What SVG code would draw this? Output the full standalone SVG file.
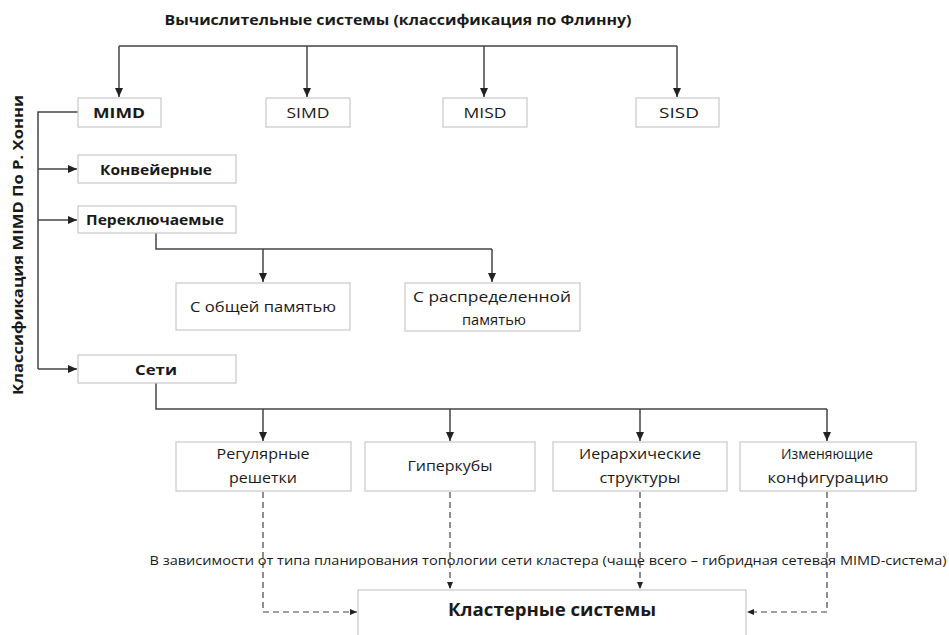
<svg xmlns="http://www.w3.org/2000/svg" width="949" height="635" viewBox="0 0 949 635">
<style>
  text { font-family: "Open Sans", "Liberation Sans", sans-serif; fill: #1a1a1a; text-anchor: middle; }
  .b { font-weight: bold; }
  .t { font-size: 15px; }
  .box { fill: #ffffff; stroke: #c8c8c8; stroke-width: 1.2; }
  .ln { fill: none; stroke: #444444; stroke-width: 1.5; }
  .dash { fill: none; stroke: #444444; stroke-width: 1.2; stroke-dasharray: 6 4; }
</style>
<defs>
  <marker id="ah" markerWidth="10" markerHeight="10" refX="9" refY="5" orient="auto" markerUnits="userSpaceOnUse">
    <path d="M0,1 L9,5 L0,9 Z" fill="#222222"/>
  </marker>
  <marker id="ahs" markerWidth="8" markerHeight="8" refX="7" refY="4" orient="auto" markerUnits="userSpaceOnUse">
    <path d="M0,1 L7,4 L0,7 Z" fill="#222222"/>
  </marker>
</defs>
<rect width="949" height="635" fill="#ffffff"/>

<g id="title">
  <text class="b" x="398" y="25" font-size="15" textLength="467" lengthAdjust="spacingAndGlyphs">Вычислительные системы (классификация по Флинну)</text>
</g>
<g id="side-label">
  <text class="b" transform="translate(23,245) rotate(-90)" font-size="14" textLength="300" lengthAdjust="spacingAndGlyphs">Классификация MIMD По Р. Хонни</text>
</g>

<g id="connectors">
  <path class="ln" d="M119,46 H677"/>
  <path class="ln" d="M119,46 V97" marker-end="url(#ah)"/>
  <path class="ln" d="M307,46 V97" marker-end="url(#ah)"/>
  <path class="ln" d="M484,46 V97" marker-end="url(#ah)"/>
  <path class="ln" d="M677,46 V97" marker-end="url(#ah)"/>
  <path class="ln" d="M78,112 H38 V369"/>
  <path class="ln" d="M38,169 H77" marker-end="url(#ah)"/>
  <path class="ln" d="M38,220 H77" marker-end="url(#ah)"/>
  <path class="ln" d="M38,369 H77" marker-end="url(#ah)"/>
  <path class="ln" d="M156,233 V249 H492"/>
  <path class="ln" d="M263,249 V282" marker-end="url(#ah)"/>
  <path class="ln" d="M492,249 V282" marker-end="url(#ah)"/>
  <path class="ln" d="M156,383 V409 H827"/>
  <path class="ln" d="M263,409 V441" marker-end="url(#ah)"/>
  <path class="ln" d="M450,409 V441" marker-end="url(#ah)"/>
  <path class="ln" d="M640,409 V441" marker-end="url(#ah)"/>
  <path class="ln" d="M827,409 V441" marker-end="url(#ah)"/>
  <path class="dash" d="M263,492 V612 H357" marker-end="url(#ahs)"/>
  <path class="dash" d="M450,492 V589" marker-end="url(#ahs)"/>
  <path class="dash" d="M640,492 V589" marker-end="url(#ahs)"/>
  <path class="dash" d="M827,492 V612 H747" marker-end="url(#ahs)"/>
</g>

<g id="mimd"><rect class="box" x="78" y="98" width="83" height="29"/><text class="b t" x="119" y="118" textLength="52" lengthAdjust="spacingAndGlyphs">MIMD</text></g>
<g id="simd"><rect class="box" x="266" y="98" width="84" height="29"/><text class="t" x="308" y="118" textLength="43" lengthAdjust="spacingAndGlyphs">SIMD</text></g>
<g id="misd"><rect class="box" x="443" y="98" width="84" height="29"/><text class="t" x="485" y="118" textLength="43" lengthAdjust="spacingAndGlyphs">MISD</text></g>
<g id="sisd"><rect class="box" x="636" y="98" width="83" height="29"/><text class="t" x="679" y="118" textLength="40" lengthAdjust="spacingAndGlyphs">SISD</text></g>

<g id="konv"><rect class="box" x="78" y="155" width="158" height="28"/><text class="b t" x="156" y="175" textLength="112" lengthAdjust="spacingAndGlyphs">Конвейерные</text></g>
<g id="perekl"><rect class="box" x="78" y="206" width="158" height="27"/><text class="b t" x="155" y="225" textLength="138" lengthAdjust="spacingAndGlyphs">Переключаемые</text></g>

<g id="obsh"><rect class="box" x="176" y="283" width="174" height="47"/><text class="t" x="263" y="312" textLength="146" lengthAdjust="spacingAndGlyphs">С общей памятью</text></g>
<g id="raspr"><rect class="box" x="405" y="283" width="175" height="48"/><text class="t" x="492" y="302" textLength="158" lengthAdjust="spacingAndGlyphs">С распределенной</text><text class="t" x="494" y="325" textLength="64" lengthAdjust="spacingAndGlyphs">памятью</text></g>

<g id="seti"><rect class="box" x="78" y="355" width="158" height="28"/><text class="b t" x="156" y="375" textLength="42" lengthAdjust="spacingAndGlyphs">Сети</text></g>

<g id="reg"><rect class="box" x="176" y="442" width="175" height="49"/><text class="t" x="263" y="459" textLength="93" lengthAdjust="spacingAndGlyphs">Регулярные</text><text class="t" x="263" y="483" textLength="68" lengthAdjust="spacingAndGlyphs">решетки</text></g>
<g id="giper"><rect class="box" x="365" y="442" width="170" height="49"/><text class="t" x="450" y="471" textLength="85" lengthAdjust="spacingAndGlyphs">Гиперкубы</text></g>
<g id="ierarh"><rect class="box" x="553" y="442" width="174" height="49"/><text class="t" x="640" y="459" textLength="122" lengthAdjust="spacingAndGlyphs">Иерархические</text><text class="t" x="640" y="483" textLength="81" lengthAdjust="spacingAndGlyphs">структуры</text></g>
<g id="izmen"><rect class="box" x="740" y="442" width="176" height="49"/><text class="t" x="827" y="459" textLength="92" lengthAdjust="spacingAndGlyphs">Изменяющие</text><text class="t" x="828" y="483" textLength="121" lengthAdjust="spacingAndGlyphs">конфигурацию</text></g>

<g id="note"><text x="548" y="565" font-size="12" textLength="797" lengthAdjust="spacingAndGlyphs">В зависимости от типа планирования топологии сети кластера (чаще всего – гибридная сетевая MIMD-система)</text></g>

<g id="klaster"><rect class="box" x="358" y="590" width="388" height="50"/><text class="b" x="552" y="616" font-size="18" textLength="208" lengthAdjust="spacingAndGlyphs">Кластерные системы</text></g>
</svg>
